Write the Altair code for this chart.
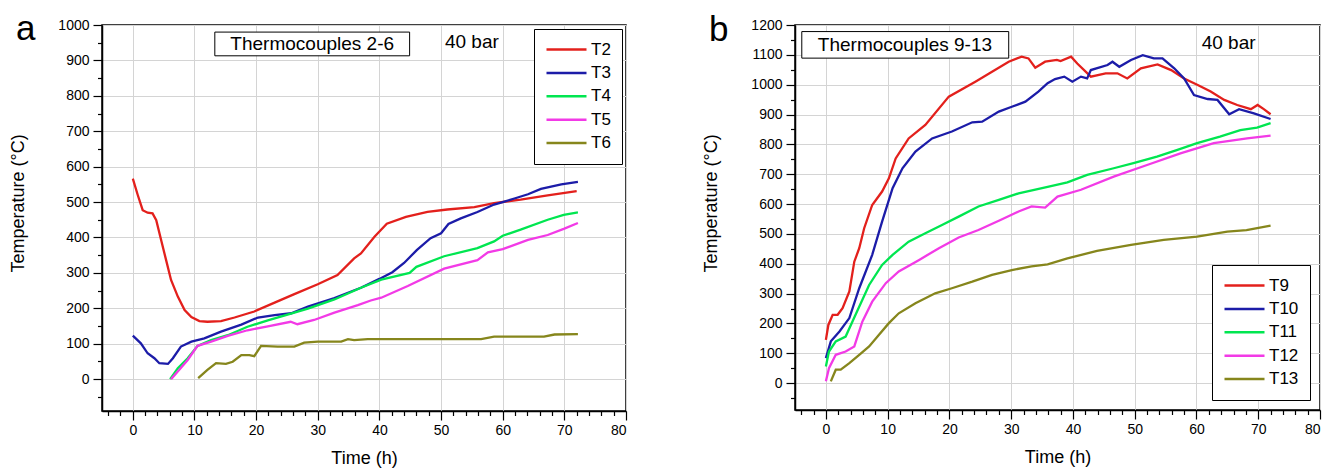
import altair as alt
import pandas as pd

FONT = "Liberation Sans"

# ---------------- Panel a : thermocouples 2-6 ----------------
names_a = ["T2", "T3", "T4", "T5", "T6"]
t2_x = [0, 0.8, 1.6, 2.4, 3.2, 3.8, 4.6, 5.4, 6.2, 7.3, 8.4, 9.5, 10.8, 12.1, 14.3, 16.5, 19.7, 23, 26.2, 30, 33.2, 35.9, 37, 39.2, 41.2, 44.3, 47.8, 51, 55.4, 58.6, 62.9, 67.3, 72]
t2_y = [566, 520, 477, 470, 468, 449, 392, 336, 280, 233, 195, 175, 164, 162, 164, 174, 191, 216, 240, 268, 294, 341, 355, 402, 439, 458, 472, 479, 486, 497, 507, 519, 531]
t3_x = [0, 1.3, 2.4, 3.5, 4.3, 5.7, 6.5, 7.8, 9.5, 11.6, 14.3, 17.6, 20.3, 23, 25.7, 28.4, 32.7, 37, 40, 42.1, 44, 46.1, 48.3, 50, 51.2, 53.2, 55.9, 58.6, 60, 61.9, 64.1, 66.2, 69.5, 72.2]
t3_y = [123, 101, 73, 59, 45, 43, 59, 92, 106, 115, 134, 154, 174, 181, 186, 205, 229, 258, 283, 302, 328, 365, 398, 412, 438, 454, 472, 493, 500, 510, 522, 537, 550, 557]
t4_x = [6.05, 7.3, 8.9, 10.5, 12.7, 15.4, 18.6, 21.9, 25.1, 28.4, 32.7, 37, 40.3, 44.9, 46, 50.5, 55.9, 58.6, 60, 62.9, 67.3, 69.9, 72.2]
t4_y = [0, 31, 59, 94, 110, 124, 148, 166, 182, 199, 225, 258, 281, 300, 317, 347, 370, 389, 405, 422, 450, 464, 471]
t5_x = [6.2, 7.5, 8.9, 10.5, 12.7, 15.4, 18.6, 21.9, 25.6, 26.7, 29.4, 32.7, 36.5, 38.6, 40.3, 44.6, 50.5, 55.9, 57.6, 60, 64.1, 67.3, 70, 72.2]
t5_y = [0, 26, 54, 94, 106, 122, 138, 149, 162, 155, 167, 188, 209, 222, 230, 263, 312, 336, 358, 367, 393, 407, 425, 441]
t6_x = [10.6, 12.1, 13.5, 15.1, 16.2, 17.6, 18.9, 19.7, 20.8, 23.5, 26.2, 27.8, 30, 33.8, 34.9, 35.9, 38.1, 56.5, 58.6, 66.7, 68.4, 72.2]
t6_y = [3, 26, 45, 43, 49, 68, 68, 65, 94, 92, 92, 103, 106, 106, 113, 110, 113, 113, 120, 120, 126, 127]

# ---------------- Panel b : thermocouples 9-13 ----------------
names_b = ["T9", "T10", "T11", "T12", "T13"]
t9_x = [0, 0.4, 1.1, 1.9, 2.7, 3.8, 4.6, 5.4, 6.2, 7.5, 9.1, 10.2, 11.3, 13.4, 16.1, 19.9, 24.2, 26.9, 29.6, 31.7, 32.8, 33.9, 35.5, 37.4, 38, 39.7, 40.7, 42.9, 45.3, 47.2, 48.8, 51, 53.7, 55.9, 58, 60.2, 62.3, 64.5, 66.6, 68.8, 69.9, 70.9, 72]
t9_y = [145, 195, 229, 229, 251, 307, 407, 452, 519, 597, 642, 686, 753, 820, 865, 960, 1010, 1043, 1077, 1094, 1088, 1057, 1077, 1083, 1079, 1094, 1071, 1027, 1038, 1038, 1021, 1055, 1068, 1049, 1021, 999, 977, 949, 932, 918, 932, 918, 901]
t10_x = [0, 0.8, 2.2, 3.8, 5.4, 7.5, 9.1, 10.8, 12.4, 14.5, 17.2, 20.4, 23.7, 25.3, 28, 30.1, 32.3, 34.4, 35.9, 37.1, 38.6, 39.9, 41.3, 42.3, 42.9, 45.6, 46.4, 47.5, 49.4, 51.3, 53.1, 54.5, 56.4, 58, 59.6, 61.8, 63.4, 65.3, 66.9, 69.3, 72]
t10_y = [84, 140, 173, 218, 318, 430, 541, 653, 720, 776, 820, 843, 874, 876, 910, 926, 943, 977, 1005, 1019, 1027, 1010, 1027, 1021, 1049, 1066, 1077, 1060, 1083, 1099, 1088, 1088, 1055, 1021, 965, 952, 949, 901, 918, 904, 885]
t11_x = [0, 0.5, 1.6, 3.2, 4.8, 7, 9.1, 10.8, 13.4, 16.1, 18.8, 21.5, 24.7, 28, 31.2, 35.9, 39.1, 42.3, 46.6, 49.8, 53.6, 56.8, 60.1, 63.8, 67.1, 69.8, 72]
t11_y = [56, 106, 140, 156, 229, 329, 396, 430, 474, 502, 530, 558, 592, 614, 636, 658, 673, 698, 720, 737, 759, 781, 804, 826, 848, 856, 871]
t12_x = [0, 0.5, 1.6, 3.2, 4.6, 5.9, 7.5, 9.7, 11.8, 15.1, 18.3, 21.5, 24.7, 28, 31.2, 33.3, 35.5, 37.5, 41.3, 46.6, 52, 57.4, 62.8, 68.2, 72]
t12_y = [6, 50, 95, 106, 123, 206, 273, 335, 374, 413, 452, 488, 513, 544, 575, 592, 588, 625, 648, 692, 731, 770, 804, 820, 829]
t13_x = [0.8, 1.6, 2.4, 3.8, 5.4, 7, 8.6, 10.2, 11.8, 14.5, 17.7, 20.4, 23.7, 26.9, 30.1, 33.3, 35.9, 39.1, 43.9, 49.4, 54.7, 60.1, 65, 68.1, 72]
t13_y = [6, 45, 45, 67, 95, 123, 162, 201, 234, 268, 301, 318, 340, 363, 379, 391, 398, 418, 443, 463, 480, 491, 508, 513, 528]

colors = ["#e3201c", "#1c1ca8", "#00e650", "#f23ae6", "#86861c"]

ann_a_text = ["Thermocouples 2-6", "40 bar"]
ann_b_text = ["Thermocouples 9-13", "40 bar"]


def long_df(names, xs, ys):
    rows = []
    for n, xv, yv in zip(names, xs, ys):
        for a, b in zip(xv, yv):
            rows.append({"series": n, "time": a, "temp": b})
    return pd.DataFrame(rows)


def panel(names, xs, ys, ymax, box, label_pos, texts, letter, letter_y,
          legend_orient, legend_offset, width, height):
    df = long_df(names, xs, ys)
    xscale = alt.Scale(domain=[-5, 80], nice=False, zero=False)
    yscale = alt.Scale(domain=[-90, ymax], nice=False, zero=False)
    xaxis = alt.Axis(
        values=list(range(-4, 81, 2)), format="d",
        labelExpr="datum.value % 10 === 0 ? datum.label : ''",
        grid=True,
        gridOpacity={"condition": {"test": "datum.value % 10 === 0", "value": 1}, "value": 0},
        tickSize={"condition": {"test": "datum.value % 10 === 0", "value": 9}, "value": 4.5},
        labelPadding=3, titlePadding=12, title="Time (h)",
    )
    yaxis = alt.Axis(
        values=list(range(-50, ymax + 1, 50)), format="d",
        labelExpr="datum.value % 100 === 0 ? datum.label : ''",
        grid=True,
        gridOpacity={"condition": {"test": "datum.value % 100 === 0", "value": 1}, "value": 0},
        tickSize={"condition": {"test": "datum.value % 100 === 0", "value": 9}, "value": 4.5},
        labelPadding=4, titlePadding=30, titleY=178, title="Temperature (°C)",
    )
    X = lambda f: alt.X(f, scale=xscale, axis=xaxis)
    Y = lambda f: alt.Y(f, scale=yscale, axis=yaxis)
    lines = alt.Chart(df).mark_line(strokeWidth=2.3).encode(
        x=X("time:Q"),
        y=Y("temp:Q"),
        color=alt.Color(
            "series:N",
            scale=alt.Scale(domain=names, range=colors),
            sort=names,
            title=None,
            legend=alt.Legend(
                orient=legend_orient, offset=legend_offset,
                symbolType="stroke", symbolSize=1600, symbolStrokeWidth=2.5,
                clipHeight=19, rowPadding=4.4, labelFontSize=17, labelFont=FONT,
                labelColor="black", labelOffset=3, padding=11,
                strokeColor="black", fillColor="white",
            ),
        ),
        detail="series:N",
    )
    box_df = pd.DataFrame([{"x": box[0], "x2": box[1], "y": box[2], "y2": box[3]}])
    rect = alt.Chart(box_df).mark_rect(fill="white", stroke="black", strokeWidth=1).encode(
        x=X("x:Q"), x2="x2:Q", y=Y("y:Q"), y2="y2:Q",
    )
    txt_df = pd.DataFrame({"label": texts, "x": [p[0] for p in label_pos], "y": [p[1] for p in label_pos]})
    txt = alt.Chart(txt_df).mark_text(fontSize=19, font=FONT, color="black", align="center", baseline="middle").encode(
        x=X("x:Q"), y=Y("y:Q"), text="label:N",
    )
    let = alt.Chart(pd.DataFrame({"t": [letter]})).mark_text(
        fontSize=35, font=FONT, color="black", align="left", baseline="alphabetic"
    ).encode(x=alt.value(-86), y=alt.value(letter_y), text="t:N")
    return alt.layer(lines, rect, txt, let).properties(width=width, height=height)


pa = panel(names_a, [t2_x, t3_x, t4_x, t5_x, t6_x], [t2_y, t3_y, t4_y, t5_y, t6_y], 1000,
           (13.3, 44.9, 980, 913), [(29.1, 946), (55, 951)], ann_a_text, "a", 15,
           "top-right", 4, 524, 386)
pb = panel(names_b, [t9_x, t10_x, t11_x, t12_x, t13_x], [t9_y, t10_y, t11_y, t12_y, t13_y], 1200,
           (-3.9, 29.6, 1178, 1089), [(12.8, 1134), (65.2, 1140)], ann_b_text, "b", 16,
           "bottom-right", 10, 525, 385)

chart = alt.hconcat(pa, pb, spacing=74).resolve_scale(color="independent").properties(
    padding={"left": 1, "top": 3, "right": 0, "bottom": 0}
).configure_view(stroke="black", strokeWidth=1.5).configure_axis(
    labelFont=FONT, titleFont=FONT, labelFontSize=14, titleFontSize=18,
    titleFontWeight="normal", labelColor="black", titleColor="black",
    domainColor="black", domainWidth=1.5, tickColor="black", tickWidth=1.2,
    gridColor="#d4d4d4", gridWidth=1,
)

chart.save("out.html", embed_options={"renderer": "svg", "actions": False})
